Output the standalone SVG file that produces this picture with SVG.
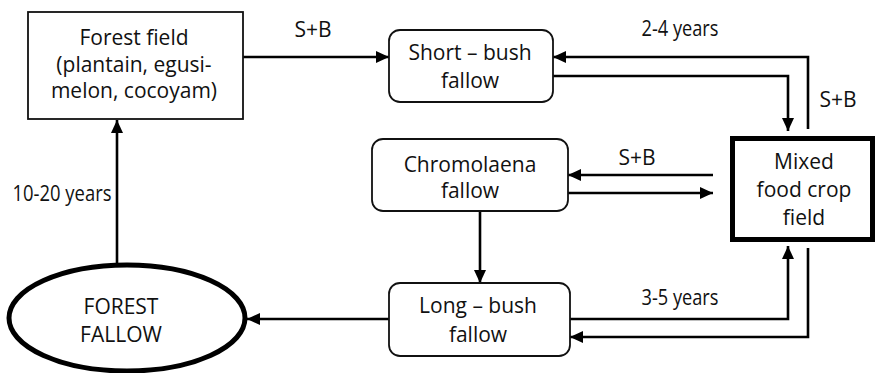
<svg xmlns="http://www.w3.org/2000/svg" width="878" height="373" viewBox="0 0 878 373">
  <defs>
    <style>
      .lbl { font-family: "Open Sans", "Noto Sans", "Liberation Sans", sans-serif; font-size: 21px; fill: #111; text-anchor: middle; }
      .box { fill: #fff; stroke: #111; stroke-width: 1.8; }
      .thick { fill: #fff; stroke: #000; stroke-width: 5; }
      .edge { fill: none; stroke: #000; stroke-width: 2.6; marker-end: url(#arrow); }
    </style>
    <marker id="arrow" markerUnits="userSpaceOnUse" markerWidth="13" markerHeight="12" refX="13" refY="6" orient="auto">
      <path d="M0,0 L13,6 L0,12 z" fill="#000"/>
    </marker>
  </defs>

  <rect width="878" height="373" fill="#fff"/>

  <!-- connectors -->
  <g id="connectors">
    <path class="edge" d="M243,57 H389"/>
    <path class="edge" d="M808,129 V57 H553"/>
    <path class="edge" d="M553,76 H788 V131"/>
    <path class="edge" d="M713,175 H568"/>
    <path class="edge" d="M568,193 H713"/>
    <path class="edge" d="M480,211 V283"/>
    <path class="edge" d="M570,319 H788 V246"/>
    <path class="edge" d="M808,248 V337 H570"/>
    <path class="edge" d="M389,319 H247"/>
    <path class="edge" d="M117,263 V120"/>
    <text class="lbl" x="313" y="37">S+B</text>
    <text class="lbl" x="680" y="36" textLength="77" lengthAdjust="spacingAndGlyphs">2-4 years</text>
    <text class="lbl" x="838" y="107">S+B</text>
    <text class="lbl" x="637" y="165">S+B</text>
    <text class="lbl" x="680" y="305" textLength="77" lengthAdjust="spacingAndGlyphs">3-5 years</text>
    <text class="lbl" x="62" y="201" textLength="99" lengthAdjust="spacingAndGlyphs">10-20 years</text>
  </g>

  <!-- nodes -->
  <g id="forest-field">
    <rect class="box" x="28" y="12" width="215" height="107"/>
    <text class="lbl" x="134" y="45">Forest field</text>
    <text class="lbl" x="134" y="72">(plantain, egusi-</text>
    <text class="lbl" x="134" y="98">melon, cocoyam)</text>
  </g>

  <g id="short-bush">
    <rect class="box" x="389" y="30" width="164" height="72" rx="11"/>
    <text class="lbl" x="470" y="60">Short – bush</text>
    <text class="lbl" x="470" y="88">fallow</text>
  </g>

  <g id="chromolaena">
    <rect class="box" x="372" y="139" width="196" height="72" rx="11"/>
    <text class="lbl" x="470" y="172">Chromolaena</text>
    <text class="lbl" x="470" y="198">fallow</text>
  </g>

  <g id="mixed-field">
    <rect class="thick" x="732.5" y="138.5" width="140" height="101"/>
    <text class="lbl" x="804" y="169">Mixed</text>
    <text class="lbl" x="804" y="197">food crop</text>
    <text class="lbl" x="804" y="225">field</text>
  </g>

  <g id="long-bush">
    <rect class="box" x="389" y="283" width="181" height="73" rx="11"/>
    <text class="lbl" x="478" y="313">Long – bush</text>
    <text class="lbl" x="478" y="342">fallow</text>
  </g>

  <g id="forest-fallow">
    <ellipse class="thick" cx="127" cy="318" rx="118" ry="53"/>
    <text class="lbl" x="121" y="314">FOREST</text>
    <text class="lbl" x="121" y="342">FALLOW</text>
  </g>
</svg>
